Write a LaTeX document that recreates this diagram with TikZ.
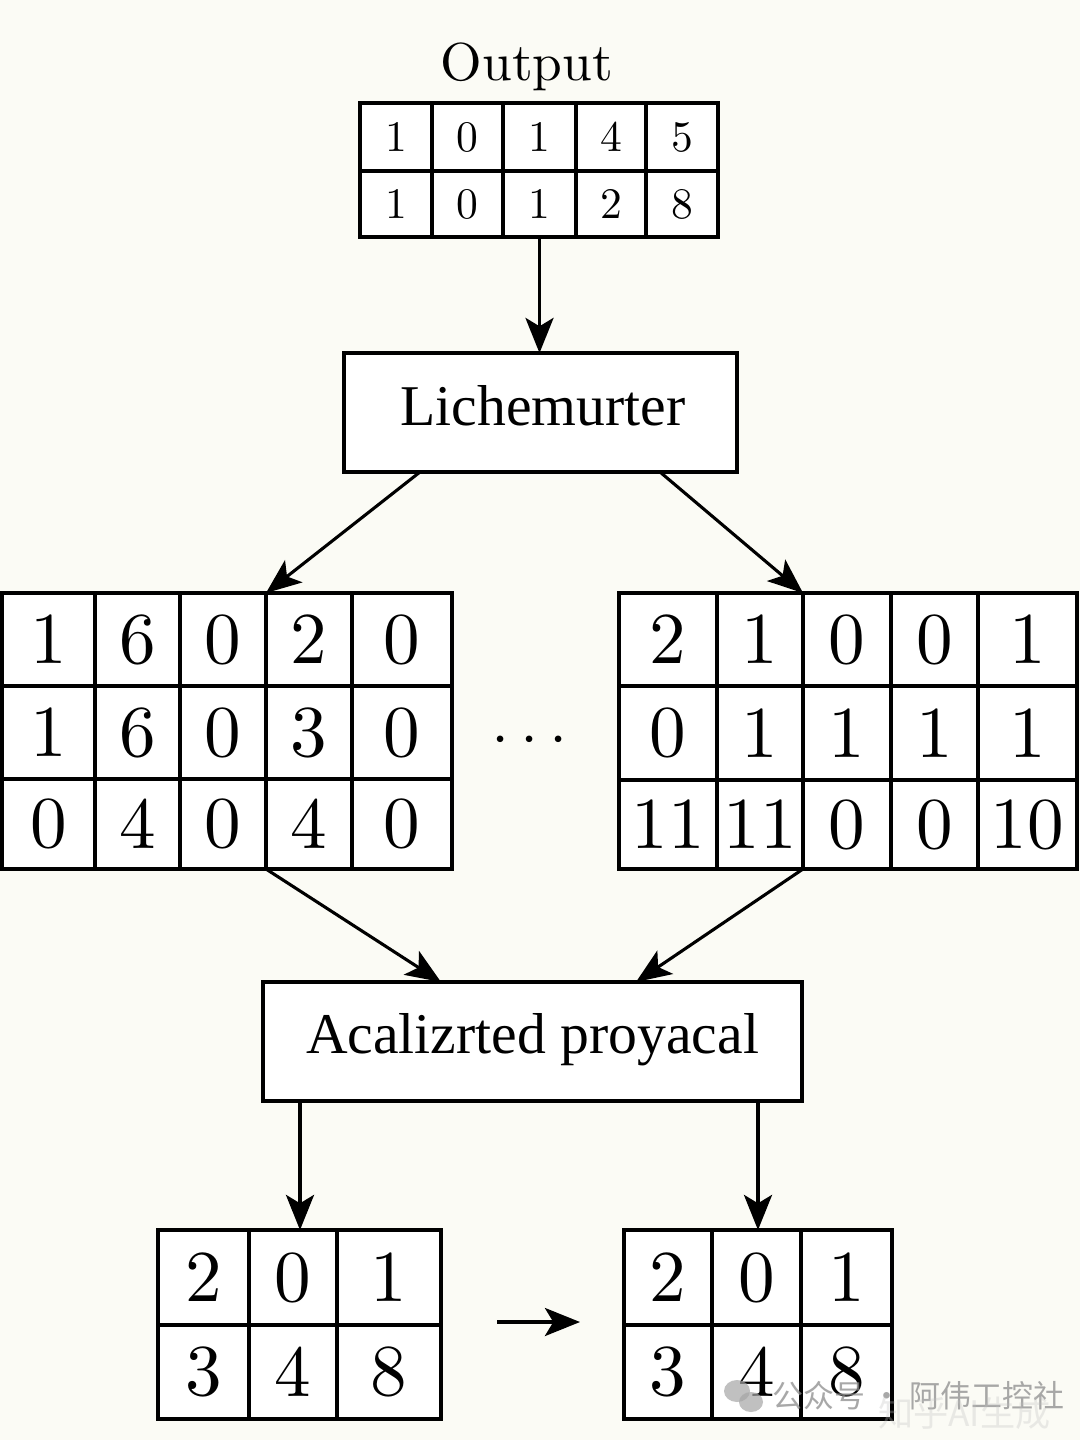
\documentclass[tikz,border=0pt]{standalone}
\usepackage{fontspec}
\setmainfont{lmroman10-regular.otf}
\newfontfamily\lab{Liberation Serif}
\newfontfamily\cjk{Noto Sans CJK SC}
\usetikzlibrary{arrows.meta,calc}
\definecolor{bgcream}{HTML}{FBFBF5}
\tikzset{
  cellbox/.style={draw, line width=2.2pt, fill=white, inner sep=0pt, outer sep=0pt, anchor=center},
  labelbox/.style={draw, line width=2.2pt, fill=white, inner sep=0pt, outer sep=0pt},
  labeltext/.style={inner sep=0pt, anchor=base, font=\lab\fontsize{41}{48}\selectfont},
  arr/.style={line width=2.2pt, -{Stealth[length=25pt,width=20pt,inset=6pt]}},
  wmark/.style={inner sep=0pt, anchor=west, font=\cjk\fontsize{22}{24}\selectfont},
  dotstyle/.style={inner sep=0pt, anchor=base, font=\fontsize{44}{50}\selectfont},
}
\newcommand\cellnode[6]{\node[cellbox, minimum width={0.025cm*(#4-#2)}, minimum height={0.025cm*(#5-#3)}] (#1) at ({(#2+#4)/2},{(#3+#5)/2}) {#6};}
\begin{document}
\begin{tikzpicture}[x=0.025cm,y=-0.025cm]
\useasboundingbox (0,0) rectangle (1080,1440);
\fill[bgcream] (0,0) rectangle (1080,1440);

% title
\node[font=\fontsize{38}{44}\selectfont, anchor=base, inner sep=0pt] (title) at (527,80) {Output};

% output grid
\begin{scope}[every node/.append style={font=\fontsize{31}{36}\selectfont}]
\foreach \xa/\xb/\a/\b [count=\i] in {360/432/1/1, 432/503/0/0, 503/576/1/1, 576/646/4/2, 646/718/5/8}{
  \cellnode{oa\i}{\xa}{103}{\xb}{171}{\a}
  \cellnode{ob\i}{\xa}{171}{\xb}{237}{\b}
}
\end{scope}

% Lichemurter box
\node[labelbox, minimum width={0.025cm*393}, minimum height={0.025cm*119}] (lich) at (540.5,412.5) {};
\node[labeltext] (lichtxt) at (543,425) {Lichemurter};

% left big grid
\begin{scope}[every node/.append style={font=\fontsize{52}{60}\selectfont}]
\foreach \xa/\xb/\a/\b/\c [count=\i] in {2/95/1/1/0, 95/180/6/6/4, 180/266/0/0/0, 266/352/2/3/4, 352/452/0/0/0}{
  \cellnode{La\i}{\xa}{593}{\xb}{686}{\a}
  \cellnode{Lb\i}{\xa}{686}{\xb}{779}{\b}
  \cellnode{Lc\i}{\xa}{779}{\xb}{869}{\c}
}
% right big grid
\foreach \xa/\xb/\a/\b/\c [count=\i] in {619/717/2/0/11, 717/803/1/1/11, 803/891/0/1/0, 891/978/0/1/0, 978/1077/1/1/10}{
  \cellnode{Ra\i}{\xa}{593}{\xb}{686}{\a}
  \cellnode{Rb\i}{\xa}{686}{\xb}{780}{\b}
  \cellnode{Rc\i}{\xa}{780}{\xb}{869}{\c}
}
% bottom grids
\foreach \xa/\xb/\a/\b [count=\i] in {158/249/2/3, 249/337/0/4, 337/441/1/8}{
  \cellnode{bla\i}{\xa}{1230}{\xb}{1325}{\a}
  \cellnode{blb\i}{\xa}{1325}{\xb}{1419}{\b}
}
\foreach \xa/\xb/\a/\b [count=\i] in {624/712/2/3, 712/801/0/4, 801/892/1/8}{
  \cellnode{bra\i}{\xa}{1230}{\xb}{1325}{\a}
  \cellnode{brb\i}{\xa}{1325}{\xb}{1419}{\b}
}
\end{scope}

% dots
\node[dotstyle] (dot1) at (501,760) {\textperiodcentered};
\node[dotstyle] (dot2) at (530,760) {\textperiodcentered};
\node[dotstyle] (dot3) at (559,760) {\textperiodcentered};

% Acalizrted box
\node[labelbox, minimum width={0.025cm*539}, minimum height={0.025cm*119}] (acal) at (532.5,1041.5) {};
\node[labeltext] (acaltxt) at (532.5,1053) {Acalizrted proyacal};

% connectors
\coordinate (lichL) at (420,472);
\coordinate (lichR) at (660,472);
\coordinate (acalL) at (441,982);
\coordinate (acalR) at (636,982);
\coordinate (acalBL) at (300,1101);
\coordinate (acalBR) at (758,1101);
\coordinate (m1) at (497,1322);
\coordinate (m2) at (580,1322);

\draw[arr] (ob3.south) -- (ob3.south |- lich.north);
\draw[arr] (lichL) -- (La4.north west);
\draw[arr] (lichR) -- (Ra3.north west);
\draw[arr] (Lc4.south west) -- (acalL);
\draw[arr] (Rc3.south west) -- (acalR);
\draw[arr] (acalBL) -- (acalBL |- bla2.north);
\draw[arr] (acalBR) -- (acalBR |- bra2.north);
\draw[arr] (m1) -- (m2);

% watermark
\fill[gray!70, opacity=0.7] (737,1391) ellipse (13 and 11);
\fill[gray!70, opacity=0.7] (751,1402) ellipse (12 and 10);
\node[wmark, text=gray!90, opacity=0.75] (wm1) at (772,1396) {公众号 · 阿伟工控社};
\node[wmark, text=gray!50, opacity=0.3, font=\cjk\fontsize{25}{28}\selectfont] (wm2) at (878,1413) {知乎AI生成};
\end{tikzpicture}
\end{document}
